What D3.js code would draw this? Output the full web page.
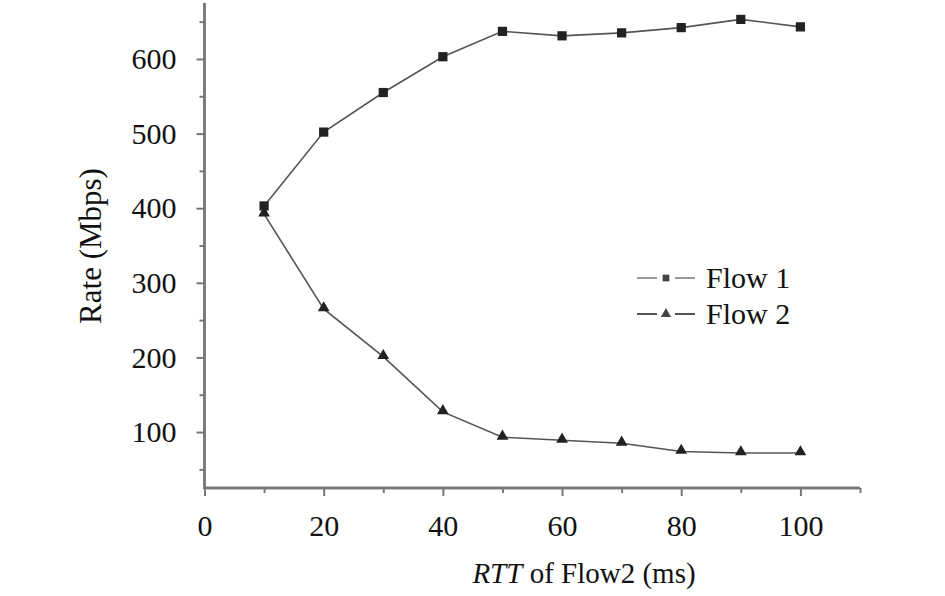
<!DOCTYPE html>
<html>
  <head>
    <script type="text/javascript" src="https://cdn.jsdelivr.net/npm/d3@7"></script>
    <style>
      body { margin: 0; background: #fff; }
      text { font-family: "Liberation Serif", "Times New Roman", serif; fill: #111; }
    </style>
  </head>
  <body>
    <script type="text/javascript">
      WIDTH = 945
      HEIGHT = 596

      // data
      var rtt = [10, 20, 30, 40, 50, 60, 70, 80, 90, 100]
      var flow1 = [403, 502, 555, 603, 637, 631, 635, 642, 653, 643]
      var flow2 = [392, 265, 201, 127, 93, 89, 85, 74, 72, 72]
      var xTicks = [0, 20, 40, 60, 80, 100]
      var yTicks = [100, 200, 300, 400, 500, 600]
      var seriesNames = ["Flow 1", "Flow 2"]

      var svg = d3.select("body")
            .append("svg")
            .attr("width", WIDTH)
            .attr("height", HEIGHT)

      // scales (axis lines at x=204, y=488)
      var xscale = d3.scaleLinear().domain([0, 110]).range([204.5, 860])
      var yscale = d3.scaleLinear().domain([25, 675]).range([488, 3])

      // minor ticks first, then major with labels
      var xAxisMinor = d3.axisBottom(xscale).tickValues(d3.range(10, 111, 20)).tickSize(5).tickFormat("")
      var xAxis = d3.axisBottom(xscale).tickValues(xTicks).tickSize(8).tickPadding(19)
      var yAxisMinor = d3.axisLeft(yscale).tickValues(d3.range(50, 676, 100)).tickSize(5).tickFormat("")
      var yAxis = d3.axisLeft(yscale).tickValues(yTicks).tickSize(8).tickPadding(20)

      function styleAxis(g) {
        g.select(".domain").attr("stroke", "#777").attr("stroke-width", 2.5)
        g.selectAll(".tick line").attr("stroke", "#777").attr("stroke-width", 2)
        g.selectAll(".tick text").attr("font-size", 30).attr("font-family", "Liberation Serif").attr("fill", "#111")
      }

      svg.append("g").attr("transform", "translate(0,488)").call(xAxisMinor).call(styleAxis)
      svg.append("g").attr("transform", "translate(0,488)").call(xAxis).call(styleAxis)
      svg.append("g").attr("transform", "translate(204.5,0)").call(yAxisMinor).call(styleAxis)
      svg.append("g").attr("transform", "translate(204.5,0)").call(yAxis).call(styleAxis)

      // the axis path ends should not get outer ticks
      svg.selectAll(".domain").attr("d", function() {
        var g = d3.select(this.parentNode)
        var t = g.attr("transform")
        if (t.indexOf(",488") > 0) return "M204.5,0H860"
        return "M0,3V489"
      })

      // axis titles
      svg.append("text")
        .attr("transform", "translate(101,246) rotate(-90)")
        .attr("text-anchor", "middle")
        .attr("font-size", 31)
        .text("Rate (Mbps)")

      var xt = svg.append("text")
        .attr("x", 584)
        .attr("y", 583)
        .attr("text-anchor", "middle")
        .attr("font-size", 29)
      xt.append("tspan").attr("font-style", "italic").text("RTT")
      xt.append("tspan").text(" of Flow2 (ms)")

      // lines
      var line = d3.line()
        .x(function(d) { return xscale(d[0]) })
        .y(function(d) { return yscale(d[1]) })

      var series = [flow1, flow2]
      series.forEach(function(vals) {
        svg.append("path")
          .datum(rtt.map(function(r, i) { return [r, vals[i]] }))
          .attr("d", line)
          .attr("fill", "none")
          .attr("stroke", "#555")
          .attr("stroke-width", 1.6)
      })

      // markers
      var square = d3.symbol().type(d3.symbolSquare).size(85)
      var tri = d3.symbol().type(d3.symbolTriangle).size(60)

      svg.selectAll(".m1").data(flow1).enter()
        .append("path").attr("class", "m1")
        .attr("d", square)
        .attr("transform", function(d, i) { return "translate(" + xscale(rtt[i]) + "," + yscale(d) + ")" })
        .attr("fill", "#222")

      svg.selectAll(".m2").data(flow2).enter()
        .append("path").attr("class", "m2")
        .attr("d", tri)
        .attr("transform", function(d, i) { return "translate(" + xscale(rtt[i]) + "," + (yscale(d) - 1) + ")" })
        .attr("fill", "#222")

      // legend
      var legendY = [278, 314]
      var legendStroke = ["#999", "#555"]
      var legendMark = [square, tri]
      seriesNames.forEach(function(name, i) {
        var g = svg.append("g").attr("transform", "translate(637," + legendY[i] + ")")
        g.append("line").attr("x1", 0).attr("x2", 20).attr("y1", 0).attr("y2", 0)
          .attr("stroke", legendStroke[i]).attr("stroke-width", 2)
        g.append("line").attr("x1", 38).attr("x2", 58).attr("y1", 0).attr("y2", 0)
          .attr("stroke", legendStroke[i]).attr("stroke-width", 2)
        g.append("path").attr("d", legendMark[i].size(45)).attr("transform", "translate(29,0)")
          .attr("fill", "#444")
        g.append("text").attr("x", 69).attr("y", 10).attr("font-size", 30).text(name)
      })
    </script>
  </body>
</html>
